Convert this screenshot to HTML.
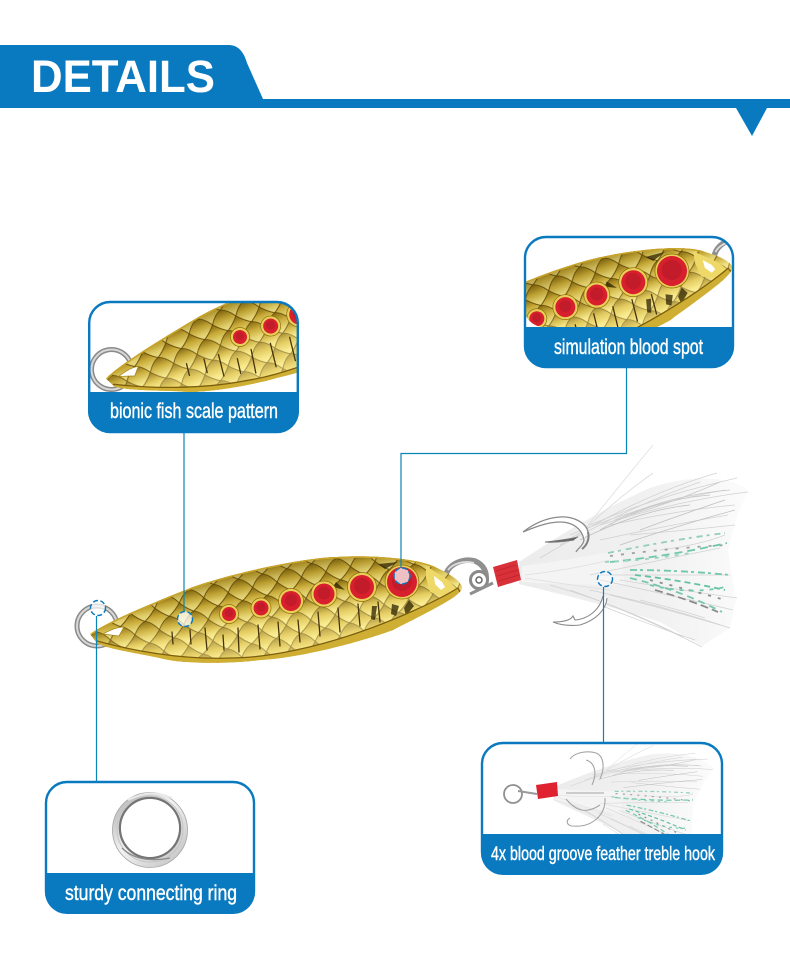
<!DOCTYPE html>
<html><head><meta charset="utf-8"><style>
html,body{margin:0;padding:0;background:#fff}
svg{display:block}
.lbl{font-family:"Liberation Sans Narrow","Liberation Sans",sans-serif;fill:#fff;stroke:#fff;stroke-width:.4px;font-size:21px}
</style></head><body>
<svg width="790" height="973" viewBox="0 0 790 973" xmlns="http://www.w3.org/2000/svg">
<defs>
<linearGradient id="sg" x1="0" y1="0" x2="0" y2="1"><stop offset="0" stop-color="#8a6c12"/><stop offset=".4" stop-color="#d4b63e"/><stop offset=".75" stop-color="#f3e27c"/><stop offset="1" stop-color="#fbf0a0"/></linearGradient>
<pattern id="sc" width="25" height="22" patternUnits="userSpaceOnUse" patternTransform="rotate(-12)">
<rect width="25" height="22" fill="#c9aa36"/>
<g stroke="#5f4606" stroke-width=".9" fill="url(#sg)">
<path d="M-12.500 0Q-6-10 0-11Q6-10 12.500 0Q6 8 0 11Q-6 8-12.500 0Z"/>
<path d="M12.500 0Q18.500-10 25-11Q31-10 37.500 0Q31 8 25 11Q18.500 8 12.500 0Z"/>
<path d="M-12.500 22Q-6 12 0 11Q6 12 12.500 22Q6 30 0 33Q-6 30-12.500 22Z"/>
<path d="M12.500 22Q18.500 12 25 11Q31 12 37.500 22Q31 30 25 33Q18.500 30 12.500 22Z"/>
<path d="M0 11Q6 2 12.500 0Q19 2 25 11Q19 18 12.500 22Q6 18 0 11Z"/>
</g></pattern>
<linearGradient id="ov" gradientUnits="userSpaceOnUse" x1="265" y1="555" x2="285" y2="665">
<stop offset="0" stop-color="#4d3a00" stop-opacity=".5"/><stop offset=".35" stop-color="#6b5200" stop-opacity=".12"/><stop offset=".6" stop-color="#fff3a0" stop-opacity=".35"/><stop offset="1" stop-color="#fff3a8" stop-opacity=".5"/></linearGradient>
<linearGradient id="rg" x1="0" y1="0" x2="1" y2="1"><stop offset="0" stop-color="#8d8d8d"/><stop offset=".45" stop-color="#e2e2e2"/><stop offset="1" stop-color="#a0a0a0"/></linearGradient>
<linearGradient id="fm" gradientUnits="userSpaceOnUse" x1="520" y1="570" x2="745" y2="560"><stop offset="0" stop-color="#ececec"/><stop offset=".6" stop-color="#f1f1f1"/><stop offset="1" stop-color="#fbfbfb"/></linearGradient>
<clipPath id="bd"><path d="M90 634C110 620 160 600 193 587C230 574 300 558 337 557C370 555 420 558 437 568C450 574 462 582 462 588C460 596 440 606 393 630C360 642 300 658 260 660C230 664 180 664 160 658C130 652 105 648 97 643Z"/></clipPath>
<g id="lure">
<circle cx="97" cy="626" r="20" fill="none" stroke="#8a8a8a" stroke-width="5"/>
<circle cx="97" cy="626" r="20" fill="none" stroke="#d8d8d8" stroke-width="2"/>
<path d="M446 574C450 563 464 558 475 561C484 565 487 572 486 580" fill="none" stroke="#8f8f8f" stroke-width="5.500"/>
<path d="M448 570C452 564 464 560 474 563" fill="none" stroke="#dcdcdc" stroke-width="1.800"/>
<path d="M90 634C110 620 160 600 193 587C230 574 300 558 337 557C370 555 420 558 437 568C450 574 462 582 462 588C460 596 440 606 393 630C360 642 300 658 260 660C230 664 180 664 160 658C130 652 105 648 97 643Z" fill="#d8b738"/>
<g clip-path="url(#bd)">
<rect x="80" y="545" width="395" height="130" fill="url(#sc)"/>
<rect x="80" y="545" width="395" height="130" fill="url(#ov)"/>
<g stroke="#46340a" stroke-width="1.300" fill="none" stroke-linecap="round">
<path d="M172 632l1 12M190 630l1 14M205 628l2 22M223 635l1 15M238 628l1 24M258 625l2 24M278 622l2 24M298 620l2 22M318 612l2 24M338 608l2 24M358 604l2 22M378 602l2 20"/>
</g>
<path d="M392 604l7 2-3 10-5-2zM409 600l5 6-8 10-2-8zM372 606l5 0-2 14-4-1zM345 590l-12-3 3-5zM398 562l-20 2 7 5z" fill="#2c2100" opacity=".75"/>
<path d="M426 566l22 14 8 8-12 8-14-4-4-14z" fill="#eed968"/>
<path d="M434 576l8 6 3 5-4 3-6-6z" fill="#fff"/>
<path d="M97 641C130 650 180 660 230 658C270 658 320 646 360 632C395 620 435 602 458 588L464 600L393 638L260 668L150 668L90 646Z" fill="#cfae34" stroke="#7d5f0b" stroke-width="1.300"/>
<path d="M92 633C110 620 160 600 193 587C230 574 300 558 337 557C370 555 420 558 437 568" fill="none" stroke="#c9a42b" stroke-width="3"/>
</g>
<path d="M103 634C110 630 118 627 124 627L119 636Z" fill="#fff" stroke="#a88714" stroke-width=".8"/>
<g fill="#e9cf58" stroke="#8f6e0c" stroke-width=".7">
<circle cx="229" cy="614" r="9.500"/><circle cx="261" cy="608" r="10"/><circle cx="291" cy="601" r="12.500"/><circle cx="324" cy="594" r="13"/><circle cx="362" cy="587" r="14.500"/><circle cx="402" cy="582" r="17"/></g>
<g fill="#d81f2e"><circle cx="229" cy="614" r="7"/><circle cx="261" cy="608" r="7.500"/><circle cx="291" cy="601" r="10"/><circle cx="324" cy="594" r="10.500"/><circle cx="362" cy="587" r="12"/><circle cx="402" cy="582" r="15"/></g>
<g fill="#c21b2a"><circle cx="229" cy="613" r="4"/><circle cx="261" cy="607" r="4.500"/><circle cx="291" cy="600" r="6"/><circle cx="324" cy="593" r="6.500"/><circle cx="362" cy="586" r="8"/><circle cx="402" cy="581" r="10"/></g>
</g>
<g id="feathers">
<path d="M519 562C560 535 600 510 650 488C690 474 730 476 748 490L736 520L728 550L736 600L730 628L702 646L660 622C610 606 560 594 519 584Z" fill="url(#fm)"/>
<path d="M522 566Q570 560 620 550L625 585Q570 585 522 582Z" fill="#f4f4f4"/>
<g fill="none" stroke="#d2d2d2" stroke-width=".8">
<path d="M588 525Q620 485 653 445" stroke="#e0e0e0"/><path d="M575 538Q615 500 653 473" stroke="#dadada"/>
<path d="M560 545Q640 495 717 473"/><path d="M590 525Q660 495 737 478"/><path d="M600 525Q680 500 748 492"/><path d="M610 525Q680 510 735 505"/><path d="M630 535Q690 530 735 525"/><path d="M540 558Q620 510 700 482"/><path d="M570 535Q640 505 725 490"/><path d="M600 540Q670 525 728 515"/>
<path d="M660 550Q700 545 725 535"/><path d="M590 575Q660 560 720 548"/><path d="M600 575Q670 575 730 575"/><path d="M620 580Q680 590 737 598"/><path d="M600 580Q670 595 733 610"/><path d="M590 590Q660 605 730 628"/><path d="M570 590Q640 615 702 647"/><path d="M550 585Q620 605 683 637"/><path d="M610 595Q670 610 720 625"/><path d="M600 605Q650 625 695 640"/><path d="M640 600Q680 610 705 618"/>
<path d="M580 540Q640 510 690 505" stroke="#c0c0c0"/><path d="M600 530Q650 500 710 495" stroke="#c4c4c4"/><path d="M615 520Q670 495 730 490" stroke="#c8c8c8"/><path d="M620 545Q680 525 735 510" stroke="#c0c0c0"/><path d="M630 515Q680 500 720 482" stroke="#c9c9c9"/><path d="M640 530Q680 515 725 500" stroke="#bfbfbf"/><path d="M525 575Q570 570 610 560" stroke="#dedede"/><path d="M525 578Q570 585 610 590" stroke="#dedede"/>
</g>
<g fill="none" stroke-width="1.800">
<path d="M608 553Q670 540 725 533" stroke="#92ceb8" stroke-dasharray="6 4 3 5"/><path d="M610 556Q670 548 727 545" stroke="#a0a0a0" stroke-dasharray="3 8"/><path d="M610 562Q670 556 727 543" stroke="#6fc8a8" stroke-dasharray="8 5"/><path d="M605 562Q650 560 690 553" stroke="#9ad5c0" stroke-dasharray="4 6"/>
<path d="M630 570Q680 570 730 575" stroke="#6fc8a8" stroke-dasharray="7 3 3 4"/><path d="M635 575Q680 580 725 590" stroke="#63c29f" stroke-dasharray="6 4"/><path d="M630 578Q680 590 722 612" stroke="#79c7ab" stroke-dasharray="7 5"/><path d="M650 580Q690 590 725 600" stroke="#8a8f8d" stroke-dasharray="3 7"/><path d="M655 590Q690 600 718 612" stroke="#8c8c8c" stroke-dasharray="8 4"/><path d="M650 585Q690 595 725 587" stroke="#6fcaa8" stroke-dasharray="4 6"/>
</g>
</g>
<g id="wrap">
<path d="M493 567L517 560L521 580L498 587Z" fill="#d8313a"/>
<path d="M496 571L516 565M497 576L518 570M498 581L519 575" stroke="#c2222c" stroke-width=".8"/>
</g>
<linearGradient id="rr" x1="0" y1="0" x2="1" y2="1"><stop offset="0" stop-color="#aaa"/><stop offset=".45" stop-color="#f2f2f2"/><stop offset="1" stop-color="#bdbdbd"/></linearGradient>
<clipPath id="c1"><rect x="89" y="302" width="209" height="90" rx="20"/></clipPath>
<clipPath id="c2"><rect x="524" y="237" width="210" height="90" rx="20"/></clipPath>
<clipPath id="c3"><rect x="481" y="743" width="242" height="91" rx="20"/></clipPath>
</defs>
<rect width="790" height="973" fill="#fff"/>

<!-- header -->
<path d="M0 45H229C238 45 244 52 247 63L263 99H790V108H0Z" fill="#0a7ac0"/>
<path d="M736 108H767L752 136Z" fill="#0a7ac0"/>
<text x="31" y="92" font-family="Liberation Sans,sans-serif" font-weight="700" font-size="45" fill="#fff" textLength="184" lengthAdjust="spacingAndGlyphs">DETAILS</text>

<!-- main lure -->
<use href="#lure"/>
<use href="#feathers"/>
<path d="M588 532C586 522 572 516 560 517C545 518 532 525 523 532C535 527 548 522 560 522C572 522 582 528 584 540C583 546 578 548 576 552" fill="#fff" stroke="#8b8b8b" stroke-width="1.300"/>
<path d="M588 532C590 540 586 546 582 549" fill="none" stroke="#808080" stroke-width="2"/>
<path d="M578 537C566 540 554 541 545 542C555 543 566 541 574 540" fill="#5d5d5d" stroke="#777" stroke-width="1"/>
<path d="M607 598C606 610 596 620 580 625C570 626 560 625 553 622C562 622 570 621 573 616L575 620C588 619 600 610 603 596" fill="#fff" stroke="#8b8b8b" stroke-width="1.100"/>
<circle cx="479" cy="580" r="8.500" fill="#fff" stroke="#8a8a8a" stroke-width="3"/>
<circle cx="479" cy="580" r="3" fill="none" stroke="#666" stroke-width="1.500"/>
<path d="M470 594L493 583" stroke="#8f8f8f" stroke-width="3"/>
<use href="#wrap"/>

<!-- connectors -->
<g fill="none" stroke="#0a85b8" stroke-width="1.200">
<path d="M184 433V611"/>
<path d="M626.500 368V453.500H401V568"/>
<path d="M603.500 742V587"/>
<path d="M96.500 781V616"/>
</g>
<g fill="#fff" fill-opacity=".72" stroke="#0a7ac0" stroke-width="1.400" stroke-dasharray="5 2.500">
<circle cx="185" cy="619" r="7.500"/>
<circle cx="98" cy="608" r="7.500"/>
<circle cx="402" cy="576" r="8"/>
<circle cx="605" cy="579" r="7.500" fill-opacity=".3"/>
</g>

<!-- panel 1 -->
<g clip-path="url(#c1)"><rect x="89" y="302" width="209" height="90" fill="#fff"/><use href="#lure" transform="translate(240 337) rotate(-9) translate(-229 -614)"/></g>
<rect x="89.200" y="302" width="208.600" height="130" rx="21" fill="none" stroke="#0a7ac0" stroke-width="2.400"/>
<path d="M88 392H299V411A22 22 0 0 1 277 433H110A22 22 0 0 1 88 411Z" fill="#0a7ac0"/>
<text class="lbl" x="110" y="418" textLength="168" lengthAdjust="spacingAndGlyphs">bionic fish scale pattern</text>

<!-- panel 2 -->
<g clip-path="url(#c2)"><rect x="524" y="237" width="210" height="90" fill="#fff"/><use href="#lure" transform="translate(672 271) rotate(-9) translate(-402 -582)"/></g>
<rect x="525" y="237" width="208" height="130" rx="21" fill="none" stroke="#0a7ac0" stroke-width="2.400"/>
<path d="M524 327H734V346A22 22 0 0 1 712 368H546A22 22 0 0 1 524 346Z" fill="#0a7ac0"/>
<text class="lbl" x="554" y="354" textLength="149" lengthAdjust="spacingAndGlyphs">simulation blood spot</text>

<!-- panel 3 -->
<g clip-path="url(#c3)"><rect x="481" y="743" width="242" height="91" fill="#fff"/>
<use href="#feathers" transform="translate(552 792) rotate(11) scale(.66) translate(-515 -572)"/>
<circle cx="513" cy="794" r="9" fill="#fff" stroke="#8f8f8f" stroke-width="1.800"/>
<path d="M518 791L537 794" stroke="#999" stroke-width="2"/>
<path d="M536 785L557 782L558 796L538 799Z" fill="#df2230"/>
<path d="M600 779C605 768 604 756 596 753C586 750 574 753 570 759M592 785C598 772 594 762 586 760M566 793H604" fill="none" stroke="#a5a5a5" stroke-width="1.100"/>
<path d="M566 799C575 810 585 815 600 805M605 798C606 815 592 828 572 826C566 825 566 820 570 818" fill="none" stroke="#a5a5a5" stroke-width="1.100"/>
</g>
<rect x="482" y="743" width="240" height="130" rx="21" fill="none" stroke="#0a7ac0" stroke-width="2.400"/>
<path d="M481 834H723V853A22 22 0 0 1 701 875H503A22 22 0 0 1 481 853Z" fill="#0a7ac0"/>
<text class="lbl" style="font-size:19px" x="491" y="860" textLength="224" lengthAdjust="spacingAndGlyphs">4x blood groove feather treble hook</text>

<!-- panel 4 -->
<circle cx="150" cy="830" r="37.500" fill="url(#rr)" stroke="#a5a5a5" stroke-width=".8"/>
<circle cx="150" cy="829" r="33" fill="none" stroke="#c4c4c4" stroke-width="1"/>
<circle cx="150" cy="828" r="30" fill="none" stroke="#757575" stroke-width="2.400"/>
<circle cx="150" cy="828" r="29" fill="#fff"/>
<path d="M128 800Q150 788 172 798" fill="none" stroke="#e9e9e9" stroke-width="2"/>
<path d="M122 848Q138 864 170 858" fill="none" stroke="#8a8a8a" stroke-width="1.300"/>
<rect x="46" y="782" width="208" height="130" rx="21" fill="none" stroke="#0a7ac0" stroke-width="2.400"/>
<path d="M45 873H255V892A22 22 0 0 1 233 914H67A22 22 0 0 1 45 892Z" fill="#0a7ac0"/>
<text class="lbl" x="65" y="900" textLength="172" lengthAdjust="spacingAndGlyphs">sturdy connecting ring</text>
</svg>
</body></html>
